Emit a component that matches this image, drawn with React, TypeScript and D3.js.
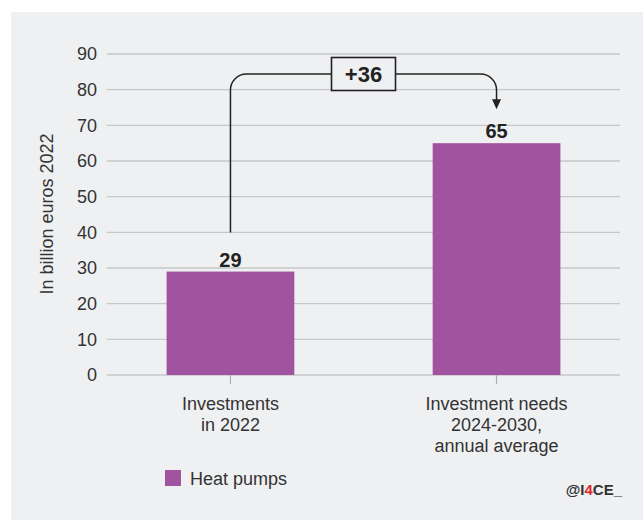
import React, { useRef, useEffect } from "react";
import * as d3 from "d3";

const categories = ["Investments\nin 2022", "Investment needs\n2024-2030,\nannual average"];
const values = [29, 65];
const yTicks = [0, 10, 20, 30, 40, 50, 60, 70, 80, 90];
const seriesName = "Heat pumps";
const deltaLabel = "+36";

const W = 643;
const H = 520;
const FONT = "'Liberation Sans', Arial, Helvetica, sans-serif";
const TEXT = "#333";
const BAR = "#a153a0";
const BG = "#eff0f2";

const App: React.FC = () => {
  const svgRef = useRef<SVGSVGElement>(null);

  useEffect(() => {
    if (!svgRef.current) return;
    const svg = d3.select(svgRef.current);
    svg.selectAll("*").remove();

    // panel
    svg.append("rect").attr("x", 11).attr("y", 12).attr("width", W - 11).attr("height", H - 12).attr("fill", BG);

    const x = d3.scaleBand<string>().domain(categories).range([107, 620]).paddingInner(0.52).paddingOuter(0.224);
    const y = d3.scaleLinear().domain([0, 90]).range([375, 54]);

    // gridlines
    svg
      .append("g")
      .selectAll("line")
      .data(yTicks)
      .join("line")
      .attr("x1", 107)
      .attr("x2", 620)
      .attr("y1", (d) => y(d))
      .attr("y2", (d) => y(d))
      .attr("stroke", "#c6c7c9")
      .attr("stroke-width", 1.3);

    // y tick labels
    svg
      .append("g")
      .selectAll("text")
      .data(yTicks)
      .join("text")
      .attr("x", 97)
      .attr("y", (d) => y(d))
      .attr("dy", "0.35em")
      .attr("text-anchor", "end")
      .attr("font-family", FONT)
      .attr("font-size", 18)
      .attr("fill", TEXT)
      .text((d) => d);

    // y title
    svg
      .append("text")
      .attr("transform", `translate(53,214) rotate(-90)`)
      .attr("text-anchor", "middle")
      .attr("font-family", FONT)
      .attr("font-size", 18)
      .attr("fill", TEXT)
      .text("In billion euros 2022");

    // bars
    svg
      .append("g")
      .selectAll("rect")
      .data(values)
      .join("rect")
      .attr("x", (_, i) => x(categories[i])!)
      .attr("width", x.bandwidth())
      .attr("y", (d) => y(d))
      .attr("height", (d) => y(0) - y(d))
      .attr("fill", BAR);

    // value labels
    svg
      .append("g")
      .selectAll("text")
      .data(values)
      .join("text")
      .attr("x", (_, i) => x(categories[i])! + x.bandwidth() / 2)
      .attr("y", (d) => y(d) - 5)
      .attr("text-anchor", "middle")
      .attr("font-family", FONT)
      .attr("font-size", 20)
      .attr("font-weight", "bold")
      .attr("fill", "#222")
      .text((d) => d);

    // x ticks + labels
    categories.forEach((c, i) => {
      const cx = x(c)! + x.bandwidth() / 2;
      svg.append("line").attr("x1", cx).attr("x2", cx).attr("y1", y(0)).attr("y2", y(0) + 9).attr("stroke", "#b0b1b3").attr("stroke-width", 1.2);
      const t = svg
        .append("text")
        .attr("text-anchor", "middle")
        .attr("font-family", FONT)
        .attr("font-size", 18)
        .attr("fill", TEXT);
      c.split("\n").forEach((line, j) => {
        t.append("tspan").attr("x", cx).attr("y", 410 + j * 21).text(line);
      });
    });

    // delta connector
    const x1 = x(categories[0])! + x.bandwidth() / 2;
    const x2 = x(categories[1])! + x.bandwidth() / 2;
    const top = y(90) + 20;
    const r = 16;
    const yStart = y(values[0]) - 39;
    const yTip = y(values[1]) - 34;
    const boxW = 64;
    const boxH = 33;
    const bx = (x1 + x2) / 2 - boxW / 2;

    const p1 = d3.path();
    p1.moveTo(x1, yStart);
    p1.lineTo(x1, top + r);
    p1.arcTo(x1, top, x1 + r, top, r);
    p1.lineTo(bx, top);
    const p2 = d3.path();
    p2.moveTo(bx + boxW, top);
    p2.lineTo(x2 - r, top);
    p2.arcTo(x2, top, x2, top + r, r);
    p2.lineTo(x2, yTip - 9);

    [p1, p2].forEach((p) =>
      svg.append("path").attr("d", p.toString()).attr("fill", "none").attr("stroke", "#222").attr("stroke-width", 1.5)
    );
    svg
      .append("path")
      .attr("d", `M${x2 - 4.5},${yTip - 10}L${x2 + 4.5},${yTip - 10}L${x2},${yTip}Z`)
      .attr("fill", "#222");

    svg
      .append("rect")
      .attr("x", bx)
      .attr("y", top - boxH / 2)
      .attr("width", boxW)
      .attr("height", boxH)
      .attr("fill", BG)
      .attr("stroke", "#222")
      .attr("stroke-width", 1.6);
    svg
      .append("text")
      .attr("x", bx + boxW / 2)
      .attr("y", top)
      .attr("dy", "0.36em")
      .attr("text-anchor", "middle")
      .attr("font-family", FONT)
      .attr("font-size", 22)
      .attr("font-weight", "bold")
      .attr("fill", "#222")
      .text(deltaLabel);

    // legend
    svg.append("rect").attr("x", 165).attr("y", 470).attr("width", 16).attr("height", 16).attr("fill", BAR);
    svg
      .append("text")
      .attr("x", 190)
      .attr("y", 485)
      .attr("font-family", FONT)
      .attr("font-size", 18)
      .attr("fill", TEXT)
      .text(seriesName);

    // credit
    const credit = svg
      .append("text")
      .attr("x", 622)
      .attr("y", 495)
      .attr("text-anchor", "end")
      .attr("font-family", FONT)
      .attr("font-size", 15)
      .attr("font-weight", "bold")
      .attr("fill", "#333");
    credit.append("tspan").text("@I");
    credit.append("tspan").attr("fill", "#e3262b").text("4");
    credit.append("tspan").text("CE_");
  }, []);

  return (
    <>
      <style>{`body{margin:0;background:#fff}`}</style>
      <svg ref={svgRef} width={W} height={H} style={{ display: "block" }} />
    </>
  );
};

export default App;
